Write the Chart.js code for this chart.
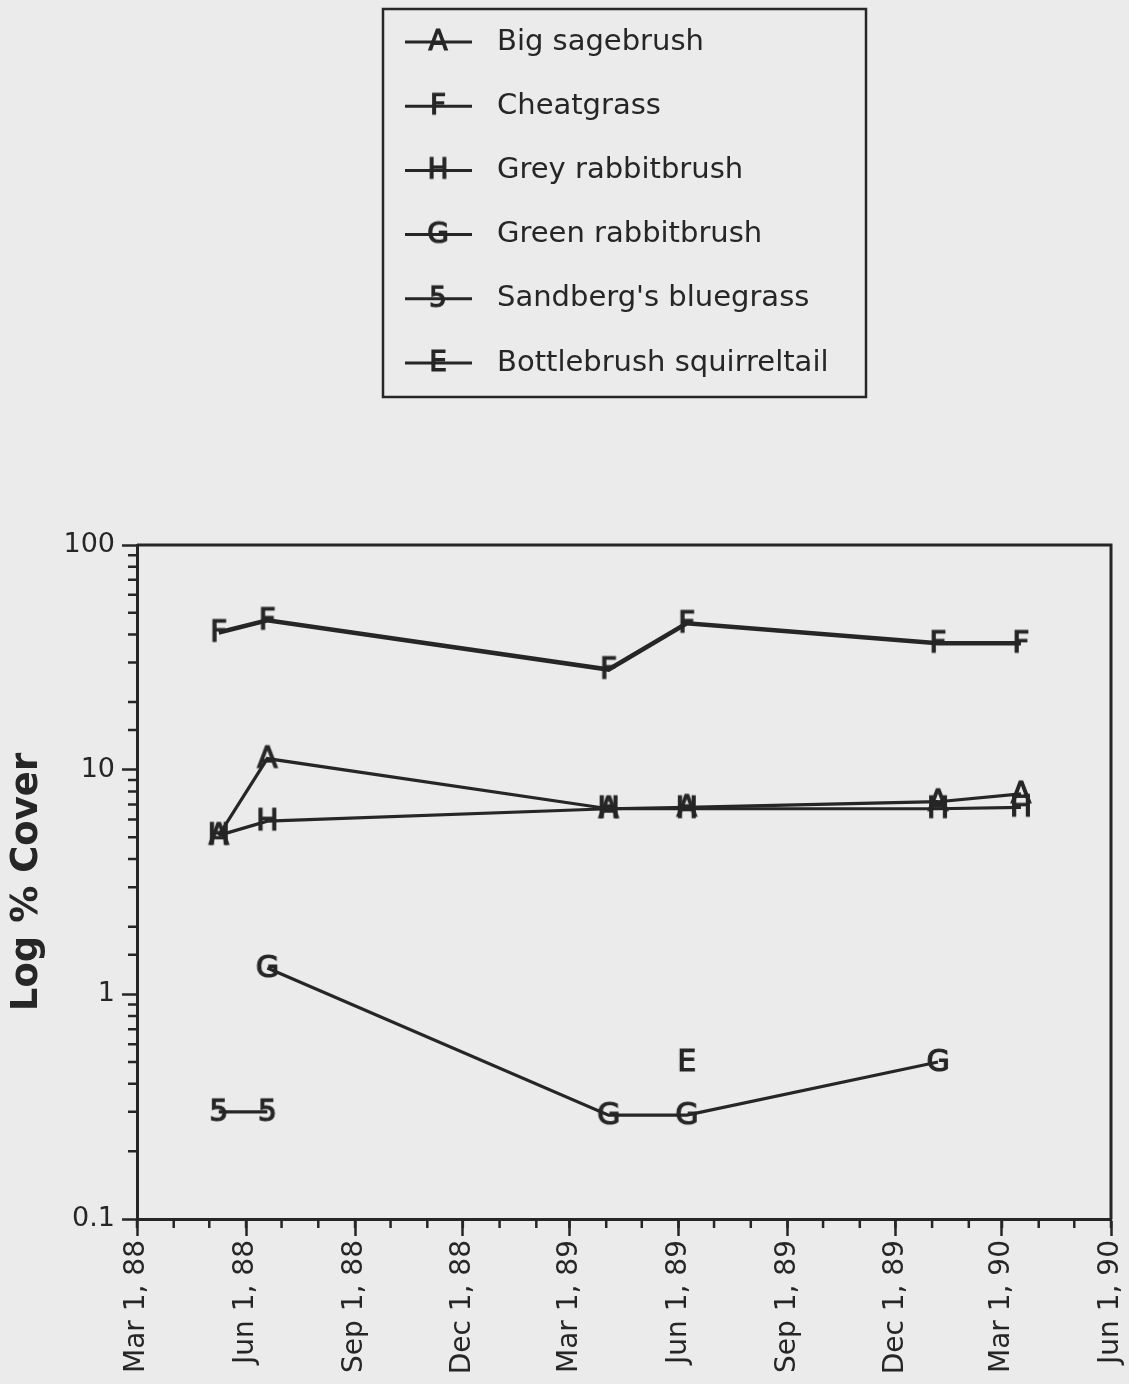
<!DOCTYPE html>
<html>
<head>
<meta charset="utf-8">
<script src="https://cdn.jsdelivr.net/npm/chart.js@4.4.1/dist/chart.umd.min.js"></script>
<style>
  html, body { margin: 0; padding: 0; background: #ebebeb; }
  #wrap { position: relative; width: 1129px; height: 1384px; }
</style>
</head>
<body>
<div id="wrap"><canvas id="chart-cover"></canvas></div>
<script>
// sampling dates and % cover (log scale)
const sampleDates = ['1988-05-09', '1988-06-19', '1989-04-03', '1989-06-08', '1990-01-06', '1990-03-17'];

const bigSagebrush = [5.1, 11.2, 6.7, 6.8, 7.2, 7.8];
const cheatgrass = [40.8, 46.2, 27.9, 44.8, 36.5, 36.5];
const greyRabbitbrush = [5.1, 5.9, 6.7, 6.7, 6.7, 6.8];
const greenRabbitbrush = [null, 1.31, 0.29, 0.29, 0.5, null];
const sandbergsBluegrass = [0.3, 0.3, null, null, null, null];
const bottlebrushSquirreltail = [null, null, null, 0.5, null, null];

const seriesNames = ['Big sagebrush', 'Cheatgrass', 'Grey rabbitbrush', 'Green rabbitbrush', "Sandberg's bluegrass", 'Bottlebrush squirreltail'];
const seriesLetters = ['A', 'F', 'H', 'G', '5', 'E'];

const xTickDates = ['1988-03-01', '1988-06-01', '1988-09-01', '1988-12-01', '1989-03-01', '1989-06-01', '1989-09-01', '1989-12-01', '1990-03-01', '1990-06-01'];
const xTickLabels = ['Mar 1, 88', 'Jun 1, 88', 'Sep 1, 88', 'Dec 1, 88', 'Mar 1, 89', 'Jun 1, 89', 'Sep 1, 89', 'Dec 1, 89', 'Mar 1, 90', 'Jun 1, 90'];
const yTickLabels = [0.1, 1, 10, 100];


const ink = '#262626'
const font = '"DejaVu Sans", Verdana, sans-serif'

function dayNum(s) {
    const [yy, mm, dd] = s.split('-').map(Number);
    return (Date.UTC(yy, mm - 1, dd) - Date.UTC(1988, 2, 1)) / 86400000;
}

function isPow10(v) {
    const l = Math.log10(v);
    return Math.abs(l - Math.round(l)) < 1e-9;
}

function letterImage(ch, size) {
    const c = document.createElement('canvas');
    c.width = size + 6;
    c.height = size + 6;
    const g = c.getContext('2d');
    g.fillStyle = ink;
    g.strokeStyle = ink;
    g.lineWidth = 1.2;
    g.font = size + 'px ' + font;
    g.textAlign = 'center';
    g.textBaseline = 'middle';
    g.fillText(ch, c.width / 2, c.height / 2 + 1);
    g.strokeText(ch, c.width / 2, c.height / 2 + 1);
    return c;
}

function points(values) {
    return sampleDates
        .map((d, i) => ({ x: dayNum(d), y: values[i] }))
        .filter(p => p.y !== null);
}

// monthly minor ticks on x
const monthStarts = [];
for (let m = 0; m <= 27; m++) {
    monthStarts.push((Date.UTC(1988, 2 + m, 1) - Date.UTC(1988, 2, 1)) / 86400000);
}

const allValues = [bigSagebrush, cheatgrass, greyRabbitbrush, greenRabbitbrush, sandbergsBluegrass, bottlebrushSquirreltail];

const data = {
    datasets: allValues.map((vals, i) => ({
        label: seriesNames[i],
        data: points(vals),
        borderColor: ink,
        borderWidth: i === 1 ? 4.5 : 3.2,
        pointStyle: letterImage(seriesLetters[i], 30),
        pointRadius: 12,
        pointHoverRadius: 12,
        fill: false,
        tension: 0
    }))
}


// top/right frame and short minor ticks
const frameAndMinorTicks = {
    id: 'frameAndMinorTicks',
    afterDraw(chart) {
        const { ctx, chartArea: a, scales: { x, y } } = chart;
        ctx.save();
        ctx.strokeStyle = ink;
        ctx.lineWidth = 3;
        ctx.beginPath();
        ctx.moveTo(a.left, a.top);
        ctx.lineTo(a.right, a.top);
        ctx.lineTo(a.right, a.bottom);
        ctx.stroke();

        ctx.lineWidth = 2.5;
        ctx.beginPath();
        monthStarts.forEach(v => {
            const px = x.getPixelForValue(v);
            ctx.moveTo(px, a.bottom);
            ctx.lineTo(px, a.bottom + 9);
        });
        y.ticks.forEach(t => {
            if (isPow10(t.value)) return;
            const py = y.getPixelForValue(t.value);
            ctx.moveTo(a.left - 9, py);
            ctx.lineTo(a.left, py);
        });
        ctx.stroke();
        ctx.restore();
    }
}

// boxed legend above the plot
const boxedLegend = {
    id: 'boxedLegend',
    afterDraw(chart) {
        const ctx = chart.ctx;
        ctx.save();
        ctx.strokeStyle = ink;
        ctx.lineWidth = 2.5;
        ctx.strokeRect(383, 9, 483, 388);

        chart.data.datasets.forEach((ds, i) => {
            const yy = 42 + i * 64.2;
            ctx.lineWidth = 3;
            ctx.beginPath();
            ctx.moveTo(405, yy);
            ctx.lineTo(472, yy);
            ctx.stroke();
            const img = letterImage(seriesLetters[i], 28);
            ctx.drawImage(img, 438 - img.width / 2, yy - img.height / 2);
            ctx.fillStyle = ink;
            ctx.font = '29px ' + font;
            ctx.textAlign = 'left';
            ctx.textBaseline = 'middle';
            ctx.fillText(ds.label, 497, yy);
        });
        ctx.restore();
    }
}

const options = {
    responsive: true,
    maintainAspectRatio: false,
    animation: false,
    layout: {
        padding: { top: 545, right: 18, left: 0, bottom: 0 }
    },
    plugins: {
        legend: { display: false },
        tooltip: { enabled: false }
    },
    scales: {
        x: {
            type: 'linear',
            min: 0,
            max: dayNum('1990-06-01'),
            afterBuildTicks: scale => {
                scale.ticks = xTickDates.map(d => ({ value: dayNum(d) }));
            },
            afterFit: scale => {
                scale.height = 165;
                scale.paddingLeft = 0;
                scale.paddingRight = 0;
            },
            border: { display: true, color: ink, width: 3 },
            grid: {
                drawOnChartArea: false,
                drawTicks: true,
                tickLength: 17,
                tickWidth: 2.5,
                tickColor: ink
            },
            ticks: {
                autoSkip: false,
                maxRotation: 90,
                minRotation: 90,
                padding: 4,
                color: ink,
                font: { family: font, size: 28 },
                callback: (v, i) => xTickLabels[i]
            }
        },
        y: {
            type: 'logarithmic',
            min: 0.1,
            max: 100,
            afterFit: scale => { scale.width = 137 },
            border: { display: true, color: ink, width: 3 },
            grid: {
                drawOnChartArea: false,
                drawTicks: true,
                tickLength: 15,
                tickWidth: 2.5,
                tickColor: c => isPow10(c.tick.value) ? ink : 'rgba(0,0,0,0)'
            },
            ticks: {
                autoSkip: false,
                padding: 7,
                color: ink,
                font: { family: font, size: 27 },
                callback: v => yTickLabels.includes(v) ? String(v) : ''
            },
            title: {
                display: true,
                text: 'Log % Cover',
                color: ink,
                padding: { top: 5, bottom: 0 },
                font: { family: font, size: 37, weight: 'bold' }
            }
        }
    }
}

new Chart('chart-cover', { type: 'line', data, options, plugins: [frameAndMinorTicks, boxedLegend] });
</script>
</body>
</html>
